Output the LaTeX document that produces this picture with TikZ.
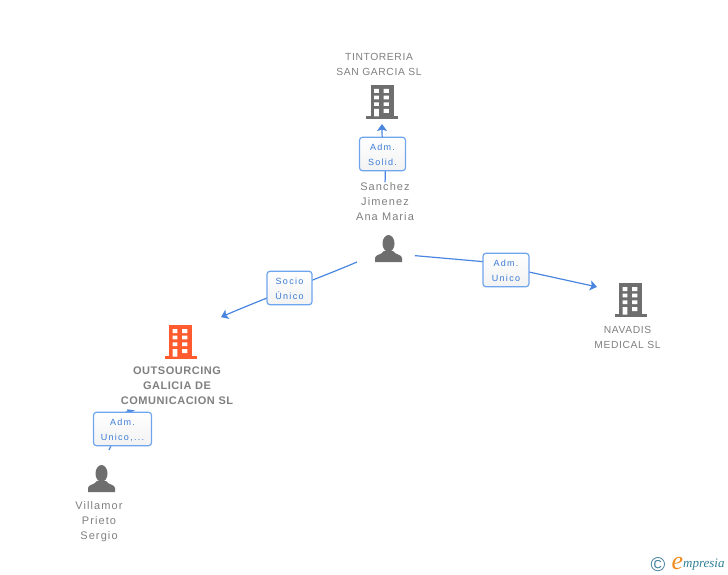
\documentclass[tikz,border=0pt]{standalone}
\usepackage{fontspec}
\setmainfont{Liberation Sans}
\newfontfamily\lspaced[LetterSpace=10]{Liberation Sans}
\newfontfamily\capsfont[LetterSpace=6]{Liberation Sans}
\newfontfamily\boldfont[LetterSpace=5]{Liberation Sans Bold}
\newfontfamily\lblfont[LetterSpace=14]{Liberation Sans}
\newfontfamily\logofont{Liberation Serif}
\usetikzlibrary{arrows.meta}
\definecolor{txtgrey}{HTML}{7F7F7F}
\definecolor{icongrey}{HTML}{6E6E6E}
\definecolor{iconorange}{HTML}{FF5B2E}
\definecolor{edgeblue}{HTML}{4A86E0}
\definecolor{boxblue}{HTML}{6FA5EC}
\definecolor{lbltxt}{HTML}{3A7BD5}
\definecolor{logoblue}{HTML}{3F7F9F}
\definecolor{logoorange}{HTML}{F08A1D}
\definecolor{logoteal}{HTML}{2F7F95}
\tikzset{
  x=1pt,y=-1pt,
  bspot/.style={inner sep=0pt,outer sep=0pt,minimum width=32pt,minimum height=34pt},
  pspot/.style={inner sep=0pt,outer sep=0pt,minimum width=27pt,minimum height=27pt},
  nametxt/.style={align=center,text=txtgrey,font=\fontsize{11}{15}\selectfont\lspaced,inner sep=0pt},
  capstxt/.style={align=center,text=txtgrey,font=\fontsize{10.3}{15}\selectfont\capsfont,inner sep=0pt},
  boldtxt/.style={align=center,text=txtgrey,font=\fontsize{11}{15}\selectfont\boldfont,inner sep=0pt},
  lbl/.style={draw=boxblue,line width=1.2pt,rounded corners=3pt,top color=white,bottom color=white!95!black,
    text=lbltxt,align=center,font=\fontsize{9}{15}\selectfont\lblfont,inner sep=0pt,minimum height=33.5pt},
  edge/.style={draw=edgeblue,line width=1.2pt},
  tip/.style={-{Stealth[length=7pt,width=10pt,inset=1.5pt]}},
  tinytip/.style={-{Stealth[length=8pt,width=4pt,inset=0pt]}},
  building/.pic={
    \fill[#1] (-11.5,-17) rectangle (11.5,15);
    \fill[#1] (-16,14) rectangle (16,17);
    \fill[white]
      (-7.8,-13) rectangle (-3.2,-9)
      (1.5,-13) rectangle (6.8,-9)
      (-7.8,-6.3) rectangle (-3.2,-2.7)
      (1.5,-6.3) rectangle (6.8,-2.7)
      (-7.8,0.3) rectangle (-3.2,4)
      (1.5,0.3) rectangle (6.8,4)
      (-7.8,7) rectangle (-3.2,14.5)
      (1.5,7) rectangle (6.8,11);
  },
  person/.pic={
    \fill[icongrey] (0,-5) ellipse (6 and 8.5);
    \fill[icongrey] (-13.5,13.5) -- (-13.5,9.5) .. controls (-13.5,6) and (-7,6.5) .. (-4.5,2.5)
      -- (4.5,2.5) .. controls (7,6.5) and (13.5,6) .. (13.5,9.5) -- (13.5,13.5) -- cycle;
  }
}
\begin{document}
\begin{tikzpicture}
\useasboundingbox (0,0) rectangle (728,575);
% icon anchors
\node[bspot] (bT) at (382,102) {};
\node[bspot] (bN) at (630.5,300) {};
\node[bspot] (bO) at (180.5,342) {};
\node[pspot] (pS) at (388.5,248.5) {};
\node[pspot] (pV) at (101.5,478.5) {};
% names
\node[capstxt] (nT) at (379,64) {TINTORERIA\\SAN GARCIA SL};
\node[nametxt] (nS) at (385,201.5) {Sanchez\\Jimenez\\Ana Maria};
\node[capstxt] (nN) at (627.5,337) {NAVADIS\\MEDICAL SL};
\node[boldtxt] (nO) at (177,386) {OUTSOURCING\\GALICIA DE\\COMUNICACION SL};
\node[nametxt] (nV) at (99,521.5) {Villamor\\Prieto\\Sergio};
% labels (placed now, drawn over the connectors)
\path (382.5,154) coordinate (cl1) (289.5,288) coordinate (cl2) (506,270) coordinate (cl3) (122.5,429) coordinate (cl4);
\node[minimum width=46pt,minimum height=33.5pt,inner sep=0pt,outer sep=0pt] (a3) at (cl3) {};
% connectors
\draw[edge,tip,shorten >=5pt] (nS.north) .. controls (386.5,170) and (382,150) .. (bT.south);
\draw[edge,tip,shorten <=19.6pt,shorten >=26.8pt] (pS.-157) .. controls (325,275.8) and (255,302) .. (bO.41.6);
\draw[edge,shorten <=13pt] (pS.-24) -- (a3.160);
\draw[edge,tip,shorten >=17.9pt] (a3.-5) -- (bN.150);
\draw[edge,tinytip,shorten <=16.8pt,shorten >=42pt] (pV.north) .. controls (116.5,435) and (120,412.4) .. (nO.south);
% icons
\pic at (bT) {building=icongrey};
\pic at (bN) {building=icongrey};
\pic at (bO) {building=iconorange};
\pic at (pS) {person};
\pic at (pV) {person};
% labels on connectors
\node[lbl,minimum width=46pt] (l1) at (cl1) {\rule{0pt}{8.5pt}Adm.\\Solid.};
\node[lbl,minimum width=45pt] (l2) at (cl2) {\rule{0pt}{8.5pt}Socio\\Único};
\node[lbl,minimum width=46pt] (l3) at (cl3) {\rule{0pt}{8.5pt}Adm.\\Unico};
\node[lbl,minimum width=58pt] (l4) at (cl4) {\rule{0pt}{8.5pt}Adm.\\Unico,...};
% logo
\node[inner sep=0pt,text=logoblue,font=\fontsize{20}{20}\selectfont] (lc) at (658,564.5) {©};
\node[inner sep=0pt,text=logoorange,font=\fontsize{26}{26}\selectfont\logofont\itshape] (le) at (677.5,563) {e};
\node[inner sep=0pt,anchor=west,text=logoteal,font=\fontsize{13}{13}\selectfont\logofont\itshape] (lm) at (683,564.5) {mpresia};
\end{tikzpicture}
\end{document}
